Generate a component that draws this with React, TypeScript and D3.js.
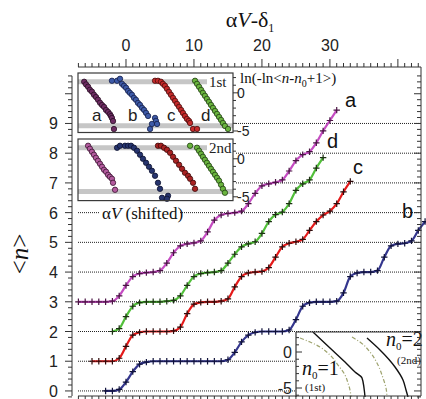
import React from "react";
import * as d3 from "d3";

// ---- main staircase data: <n> read at every unit of aV-d1, from the first x ----
const aStart = -7;
const aValues = [3.0, 3.0, 3.0, 3.0, 3.0, 3.02, 3.2, 3.55, 3.85, 3.95, 3.98, 4.0, 4.05, 4.3, 4.65, 4.88, 4.95, 4.98, 5.05, 5.35, 5.75, 5.92, 5.97, 6.0, 6.05, 6.3, 6.65, 6.9, 6.97, 7.02, 7.1, 7.4, 7.75, 7.95, 8.05, 8.35, 8.75, 9.1, 9.45];
const dStart = -2;
const dValues = [2.0, 2.1, 2.5, 2.85, 2.97, 3.0, 3.0, 3.0, 3.02, 3.05, 3.2, 3.55, 3.85, 3.95, 3.98, 4.0, 4.05, 4.3, 4.6, 4.85, 4.95, 5.02, 5.3, 5.7, 5.93, 6.02, 6.3, 6.75, 6.97, 7.1, 7.5, 7.85];
const cStart = -5;
const cValues = [1.0, 1.0, 1.0, 1.0, 1.1, 1.5, 1.88, 1.97, 2.0, 2.0, 2.0, 2.0, 2.02, 2.15, 2.6, 2.92, 2.98, 3.0, 3.0, 3.02, 3.1, 3.5, 3.85, 3.97, 4.0, 4.02, 4.15, 4.5, 4.85, 4.97, 5.02, 5.1, 5.4, 5.7, 5.92, 6.05, 6.3, 6.7, 7.05];
const bStart = -3;
const bValues = [0.0, 0.0, 0.05, 0.3, 0.65, 0.9, 0.97, 1.0, 1.0, 1.0, 1.0, 1.0, 1.0, 1.0, 1.0, 1.0, 1.0, 1.0, 1.05, 1.3, 1.65, 1.88, 1.97, 2.0, 2.0, 2.0, 2.0, 2.05, 2.4, 2.85, 2.97, 3.0, 3.0, 3.0, 3.02, 3.3, 3.85, 3.97, 4.0, 4.0, 4.05, 4.5, 4.88, 4.95, 4.97, 5.05, 5.4, 5.7];

const gridLevels = [0, 1, 2, 3, 4, 5, 6, 7, 8, 9];
const yTickLabels = [0, 1, 2, 3, 4, 5, 6, 7, 8, 9];
const xTickLabels = [0, 10, 20, 30];

// ---- upper-left inset: ln(-ln<n-n0+1>) vs aV (shifted) ----
const a1st = [[4, 1.45], [5.2, 1.1], [6.5, 0.8], [7.7, 0.4], [9, 0.15], [10.3, -0.25], [11.6, -0.55], [12.9, -0.9], [14.2, -1.3], [15.5, -1.6], [16.8, -1.85], [18.1, -2.25], [19.4, -2.5], [20.6, -2.8], [21.3, -3.05], [21.9, -3.3], [22.6, -3.7], [23.2, -4.75]];
const b1st = [[21.9, 1.58], [25.2, 1.58], [27.1, 1.84], [28.4, 1.18], [29.7, 0.92], [31, 0.66], [32.3, 0.26], [33.5, 0], [34.8, -0.26], [36.1, -0.66], [37.4, -0.92], [38.7, -1.32], [40, -1.58], [41.3, -1.97], [42.6, -2.24], [43.9, -2.63], [45.2, -3.03], [49.7, -3.29], [50.3, -3.68], [47.7, -4.08], [46.5, -4.74], [51, -4.08]];
const c1st = [[49.7, 1.58], [51.6, 1.58], [53.5, 1.45], [54.8, 1.18], [56.1, 0.92], [57.4, 0.53], [58.7, 0.13], [60, -0.26], [61.3, -0.66], [62.6, -1.05], [63.9, -1.45], [65.2, -1.84], [66.5, -2.24], [67.7, -2.63], [69, -3.03], [70.3, -3.42], [71.6, -3.68], [72.3, -3.95], [74.2, -4.74], [76.8, -4.74]];
const d1st = [[75.5, 1.58], [76.8, 1.18], [78.1, 0.79], [79.4, 0.39], [80.6, 0], [81.9, -0.39], [83.2, -0.79], [84.5, -1.18], [85.8, -1.58], [87.1, -1.97], [88.4, -2.37], [89.7, -2.76], [91, -3.16], [92.3, -3.55], [93.5, -3.95], [94.8, -4.34], [96.8, -4.74]];
const a2nd = [[6.5, 1.71], [7.7, 1.32], [9, 0.92], [10.3, 0.53], [11.6, 0.13], [12.9, -0.26], [14.2, -0.66], [15.5, -1.05], [16.8, -1.45], [18.1, -1.71], [19.4, -2.11], [20.6, -2.37], [21.9, -2.63], [22.6, -3.16], [23.9, -4.08]];
const b2nd = [[25.2, 1.45], [27.1, 1.71], [30.3, 1.71], [32.3, 1.71], [34.2, 1.71], [36.1, 1.45], [38.1, 1.05], [40, 0.53], [41.9, 0], [43.9, -0.53], [45.8, -1.05], [47.7, -1.58], [49.7, -2.24], [51.6, -3.16], [52.9, -3.95], [54.2, -5.13], [58.1, -4.87], [57.4, -5.26]];
const c2nd = [[51.6, 1.71], [53.5, 1.71], [55.5, 1.45], [57.4, 1.18], [59.4, 0.79], [61.3, 0.26], [63.2, -0.26], [65.2, -0.79], [67.1, -1.32], [69, -1.84], [71, -2.24], [72.3, -2.63], [74.2, -3.16], [75.5, -3.95]];
const d2nd = [[72.3, 1.71], [76.8, 1.45], [78.1, 1.05], [79.4, 0.66], [80.6, 0.26], [81.9, -0.13], [83.2, -0.53], [84.5, -0.92], [85.8, -1.32], [87.1, -1.71], [88.4, -2.11], [89.7, -2.5], [91, -2.89], [92.3, -3.42], [93.5, -3.95], [94.8, -4.47]];
const bandLevels = [1.45, -4.3];
const insetTickLabels = [0, -5];

// ---- lower-right inset: fits (solid) and model (dashed) ----
const n01Solid = [[13.6, 2.78], [27.2, 0.56], [39.2, -1.39], [47.2, -2.78], [52.8, -3.61], [54.4, -5], [55.2, -6.25]];
const n01Dashed = [[3.2, 1.94], [11.2, 1.39], [19.2, 0.69], [27.2, -0.42], [33.6, -1.81], [39.2, -3.19], [41.6, -4.31], [43.2, -5.28], [44, -6.25]];
const n02Solid = [[56.8, 1.94], [67.2, 0.28], [79.2, -2.08], [85.6, -3.89], [88, -5.28], [89.6, -6.25]];
const n02Dashed = [[44.8, 2.08], [51.2, 1.39], [59.2, 0], [65.6, -1.81], [69.6, -3.61], [72, -5], [72.8, -6.25]];

const SANS = "Liberation Sans, Arial, sans-serif";
const SERIF = "Liberation Serif, Times New Roman, serif";

export default function App() {
  const x = d3.scaleLinear().domain([-7.06, 43.4]).range([78, 421]);
  const y = d3.scaleLinear().domain([-0.17, 10.9]).range([396, 67]);

  const series = [
    { key: "a", start: aStart, values: aValues, line: "#c54cc2", mark: "#4a1444" },
    { key: "d", start: dStart, values: dValues, line: "#52c03a", mark: "#1c3012" },
    { key: "c", start: cStart, values: cValues, line: "#e41a1a", mark: "#2e0c0c" },
    { key: "b", start: bStart, values: bValues, line: "#34368e", mark: "#10123a" },
  ];
  const line = d3
    .line<[number, number]>()
    .x((d) => x(d[0]))
    .y((d) => y(d[1]))
    .curve(d3.curveMonotoneX);

  // inset 1
  const ix = d3.scaleLinear().domain([0, 100]).range([78, 233]);
  const iy1 = d3.scaleLinear().domain([-5.2, 2.6]).range([132.5, 73]);
  const iy2 = d3.scaleLinear().domain([-5.5, 2.6]).range([200.6, 139]);
  const panels = [
    { key: "1st", sy: iy1, sets: [
      { pts: a1st, fill: "#6e2c63", stroke: "#2a0f25" },
      { pts: b1st, fill: "#3d5aa8", stroke: "#15204a" },
      { pts: c1st, fill: "#c42a2a", stroke: "#4a0e0e" },
      { pts: d1st, fill: "#6ab43e", stroke: "#1f3d12" },
    ] },
    { key: "2nd", sy: iy2, sets: [
      { pts: a2nd, fill: "#b35a9e", stroke: "#3a1531" },
      { pts: b2nd, fill: "#26346e", stroke: "#0c1230" },
      { pts: c2nd, fill: "#a82222", stroke: "#3d0a0a" },
      { pts: d2nd, fill: "#6ab43e", stroke: "#1f3d12" },
    ] },
  ];

  // inset 2
  const jx = d3.scaleLinear().domain([0, 100]).range([296, 421]);
  const jy = d3.scaleLinear().domain([-6.25, 2.78]).range([397, 332]);
  const jline = d3
    .line<number[]>()
    .x((d) => jx(d[0]))
    .y((d) => jy(d[1]))
    .curve(d3.curveMonotoneY);

  const xMinor = d3.range(-7, 44, 1);
  const yMinor = d3.range(-0.2, 10.61, 0.2).map((v) => Math.round(v * 10) / 10);

  return (
    <svg width={426} height={399} style={{ position: "absolute", left: 0, top: 0, background: "#fff" }}>
      {/* gridlines */}
      {gridLevels.map((g) => (
        <line key={g} x1={78} x2={421} y1={y(g)} y2={y(g)} stroke="#222" strokeWidth={1} strokeDasharray="1,1" />
      ))}

      {/* main curves */}
      {series.map((s) => {
        const pts: [number, number][] = s.values.map((v, i) => [s.start + i, v]);
        return (
          <g key={s.key}>
            <path d={line(pts) || ""} fill="none" stroke={s.line} strokeWidth={2.2} />
            {pts.map((p, i) => (
              <path
                key={i}
                d={`M${x(p[0]) - 3.2},${y(p[1])}H${x(p[0]) + 3.2}M${x(p[0])},${y(p[1]) - 3.2}V${y(p[1]) + 3.2}`}
                stroke={s.mark}
                strokeWidth={1.2}
              />
            ))}
          </g>
        );
      })}

      {/* series labels */}
      <g fontFamily={SANS} fontSize={20} fill="#111">
        <text x={345} y={107}>a</text>
        <text x={327} y={148}>d</text>
        <text x={353} y={174}>c</text>
        <text x={402} y={218}>b</text>
      </g>

      {/* upper-left inset */}
      <rect x={78} y={70} width={157} height={134} fill="#fff" />
      {panels.map((p) => {
        const [y0, y1] = p.sy.range();
        return (
          <g key={p.key}>
            {bandLevels.map((b, i) => (
              <line key={i} x1={78} x2={i === 0 ? 207 : 233} y1={p.sy(b)} y2={p.sy(b)} stroke="#c6c6c6" strokeWidth={5} />
            ))}
            {p.sets.map((s, k) => (
              <g key={k}>
                {s.pts.map((d, i) => (
                  <circle key={i} cx={ix(d[0])} cy={p.sy(d[1])} r={2.7} fill={s.fill} stroke={s.stroke} strokeWidth={0.8} />
                ))}
              </g>
            ))}
            <rect x={78} y={y1} width={155} height={y0 - y1} fill="none" stroke="#3a3a3a" strokeWidth={1.2} />
            {d3.range(-5, 3).map((t) => (
              <line key={t} x1={233} x2={233 + (t % 5 === 0 ? 5 : 3)} y1={p.sy(t)} y2={p.sy(t)} stroke="#333" strokeWidth={1} />
            ))}
            {insetTickLabels.map((t) => (
              <text key={t} x={237} y={p.sy(t) + 5.5} fontFamily={SANS} fontSize={14} fill="#222">{t}</text>
            ))}
            <text x={209} y={p.sy(1.45) + 5} fontFamily={SERIF} fontSize={15} fill="#222">{p.key}</text>
          </g>
        );
      })}
      <g fontFamily={SANS} fontSize={17} fill="#222">
        <text x={92} y={121}>a</text>
        <text x={128} y={121}>b</text>
        <text x={167} y={121}>c</text>
        <text x={201} y={121}>d</text>
      </g>
      <text x={240} y={83} fontFamily={SERIF} fontSize={15} fill="#111">
        ln(-ln&lt;<tspan fontStyle="italic">n</tspan>-<tspan fontStyle="italic">n</tspan>
        <tspan fontSize={10} dy={4}>0</tspan>
        <tspan dy={-4}>+1&gt;)</tspan>
      </text>
      <rect x={100} y={204} width={80} height={18} fill="#fff" />
      <text x={102} y={219} fontFamily={SERIF} fontSize={17} fill="#111">
        α<tspan fontStyle="italic">V</tspan>  (shifted)
      </text>

      {/* lower-right inset */}
      <rect x={296} y={332} width={125} height={67} fill="#fff" />
      <clipPath id="jclip">
        <rect x={296} y={332} width={125} height={65} />
      </clipPath>
      <g clipPath="url(#jclip)" fill="none">
        <path d={jline(n01Dashed) || ""} stroke="#9ea36e" strokeWidth={1.2} strokeDasharray="4,2,1,2" />
        <path d={jline(n02Dashed) || ""} stroke="#9ea36e" strokeWidth={1.2} strokeDasharray="4,2,1,2" />
        <path d={jline(n01Solid) || ""} stroke="#111" strokeWidth={1.4} />
        <path d={jline(n02Solid) || ""} stroke="#111" strokeWidth={1.4} />
      </g>
      <line x1={296} x2={421} y1={332} y2={332} stroke="#333" strokeWidth={1.2} />
      <line x1={296} x2={296} y1={332} y2={397} stroke="#333" strokeWidth={1.2} />
      {d3.range(-6, 3).map((t) => (
        <line key={t} x1={296} x2={296 + (t % 5 === 0 ? 6 : 3)} y1={jy(t)} y2={jy(t)} stroke="#333" strokeWidth={1} />
      ))}
      {insetTickLabels.map((t) => (
        <text key={t} x={292} y={jy(t) + 6} textAnchor="end" fontFamily={SANS} fontSize={16} fill="#222">{t}</text>
      ))}
      <text x={302} y={375} fontFamily={SERIF} fontSize={20} fill="#111">
        <tspan fontStyle="italic">n</tspan><tspan fontSize={11} dy={4}>0</tspan><tspan dy={-4}>=1</tspan>
      </text>
      <text x={305} y={391} fontFamily={SERIF} fontSize={11} fill="#111">(1st)</text>
      <text x={386} y={346} fontFamily={SERIF} fontSize={20} fill="#111">
        <tspan fontStyle="italic">n</tspan><tspan fontSize={11} dy={4}>0</tspan><tspan dy={-4}>=2</tspan>
      </text>
      <text x={397} y={364} fontFamily={SERIF} fontSize={11} fill="#111">(2nd)</text>

      {/* axes */}
      <g stroke="#333" strokeWidth={1}>
        <line x1={78} x2={421} y1={67} y2={67} />
        {xMinor.map((v) => (
          <line key={"t" + v} x1={x(v)} x2={x(v)} y1={67} y2={67 - (v % 10 === 0 ? 8 : 4)} />
        ))}
        <line x1={78} x2={421} y1={396} y2={396} />
        {xMinor.map((v) => (
          <line key={"b" + v} x1={x(v)} x2={x(v)} y1={396} y2={396 + (v % 10 === 0 ? 7 : 4)} />
        ))}
        <line x1={72} x2={72} y1={y(10.6)} y2={396} />
        {yMinor.map((v) => (
          <line key={"l" + v} x1={72} x2={72 - (Number.isInteger(v) ? 7 : 4)} y1={y(v)} y2={y(v)} />
        ))}
        <line x1={421} x2={421} y1={67} y2={396} />
        {yMinor.map((v) => (
          <line key={"r" + v} x1={421} x2={421 - (Number.isInteger(v) ? 7 : 4)} y1={y(v)} y2={y(v)} />
        ))}
      </g>
      <g fontFamily={SANS} fontSize={16} fill="#222">
        {xTickLabels.map((v) => (
          <text key={v} x={x(v)} y={51} textAnchor="middle">{v}</text>
        ))}
        {yTickLabels.map((v) => (
          <text key={v} x={58} y={y(v) + 6} textAnchor="end">{v}</text>
        ))}
      </g>

      {/* titles */}
      <text x={250} y={27} textAnchor="middle" fontFamily={SERIF} fontSize={22} fill="#111">
        α<tspan fontStyle="italic">V</tspan>-δ<tspan fontSize={12} dy={5}>1</tspan>
      </text>
      <text transform="translate(28,254) rotate(-90)" textAnchor="middle" fontFamily={SERIF} fontSize={25} fill="#111">
        &lt;<tspan fontStyle="italic">n</tspan>&gt;
      </text>
    </svg>
  );
}
